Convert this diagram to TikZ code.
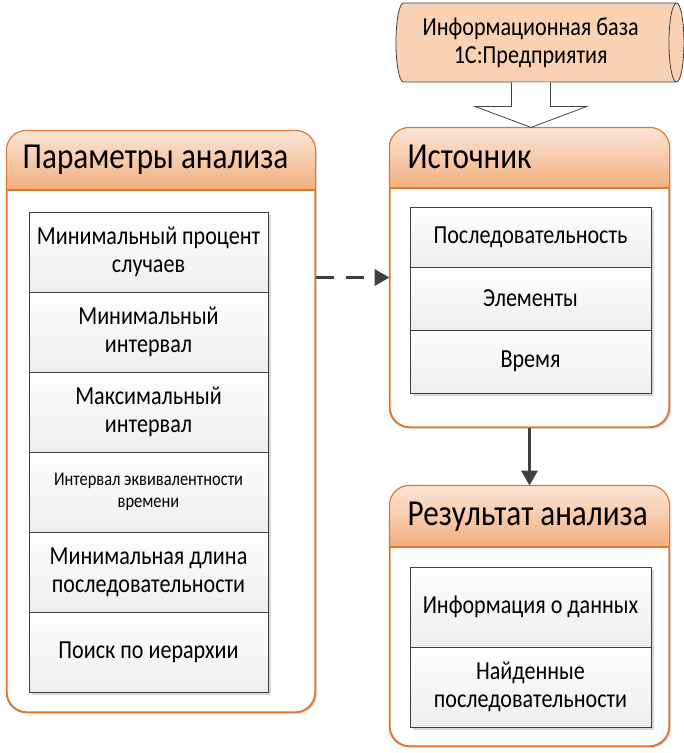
\documentclass[tikz,border=0pt]{standalone}
\usepackage{fontspec}
\setmainfont{Carlito}[FakeStretch=0.85]
\usetikzlibrary{shapes.geometric,arrows.meta,calc,shadows}
\definecolor{orangeb}{HTML}{E0782F}
\definecolor{peachtop}{HTML}{FBE5D6}
\definecolor{peachbot}{HTML}{F2AF7E}
\definecolor{cylfill}{HTML}{F9D1B3}
\definecolor{dark}{HTML}{404040}
\begin{document}
\begin{tikzpicture}[x=0.75pt,y=-0.75pt,
  container/.style={draw=orangeb, line width=0.9pt, rounded corners=15pt, fill=white,
     drop shadow={shadow xshift=1.5pt, shadow yshift=-1.5pt, opacity=0.25, fill=gray}},
  hdrtext/.style={anchor=west, font=\fontsize{27.5}{30}\selectfont, text=black},
  cell/.style={draw=dark, line width=0.6pt, top color=white, bottom color=black!7,
     align=center, inner sep=0pt, font=\fontsize{19.5}{21}\selectfont,
     drop shadow={shadow xshift=2pt, shadow yshift=-2pt, opacity=0.3, fill=gray}},
  smallcell/.style={cell, font=\fontsize{14.5}{16}\selectfont},
  conn/.style={draw=dark, line width=2.2pt, -{Triangle[length=11pt,width=12pt]}},
]
\useasboundingbox (0,0) rectangle (684,753);

% ---------- containers ----------
\node[container, minimum width=231pt, minimum height=435.75pt] (par) at (161,421.5) {};
\node[container, minimum width=209.25pt, minimum height=224.25pt] (src) at (529.5,277.5) {};
\node[container, minimum width=209.25pt, minimum height=195pt] (res) at (529.5,616) {};

% headers
\begin{scope}
  \clip[rounded corners=15pt] (par.north west) rectangle (par.south east);
  \shade[top color=peachtop, bottom color=peachbot] (par.north west) rectangle (315,190);
\end{scope}
\begin{scope}
  \clip[rounded corners=15pt] (src.north west) rectangle (src.south east);
  \shade[top color=peachtop, bottom color=peachbot] (src.north west) rectangle (669,188);
\end{scope}
\begin{scope}
  \clip[rounded corners=15pt] (res.north west) rectangle (res.south east);
  \shade[top color=peachtop, bottom color=peachbot] (res.north west) rectangle (669,547);
\end{scope}
\draw[orangeb, line width=0.9pt, rounded corners=15pt] (par.north west) rectangle (par.south east);
\draw[orangeb, line width=0.9pt, rounded corners=15pt] (src.north west) rectangle (src.south east);
\draw[orangeb, line width=0.9pt, rounded corners=15pt] (res.north west) rectangle (res.south east);
\draw[orangeb, line width=0.9pt] (par.west |- 0,190) -- (par.east |- 0,190);
\draw[orangeb, line width=0.9pt] (src.west |- 0,188) -- (src.east |- 0,188);
\draw[orangeb, line width=0.9pt] (res.west |- 0,547) -- (res.east |- 0,547);

\node[hdrtext] (parh) at (18,160) {Параметры анализа};
\node[hdrtext] (srch) at (403,157) {Источник};
\node[hdrtext] (resh) at (403,517) {Результат анализа};

% ---------- cells: parameters ----------
\node[cell, minimum width=179.25pt, minimum height=60pt] (p1) at (148.5,252) {Минимальный процент\\случаев};
\node[cell, minimum width=179.25pt, minimum height=60pt] (p2) at (148.5,332) {Минимальный\\интервал};
\node[cell, minimum width=179.25pt, minimum height=60pt] (p3) at (148.5,412) {Максимальный\\интервал};
\node[smallcell, minimum width=179.25pt, minimum height=60pt] (p4) at (148.5,492) {Интервал эквивалентности\\времени};
\node[cell, minimum width=179.25pt, minimum height=60pt] (p5) at (148.5,572) {Минимальная длина\\последовательности};
\node[cell, minimum width=179.25pt, minimum height=60pt] (p6) at (148.5,652) {Поиск по иерархии};

% ---------- cells: source ----------
\node[cell, minimum width=180.75pt, minimum height=45pt] (s1) at (530.5,237) {Последовательность};
\node[cell, minimum width=180.75pt, minimum height=47.25pt] (s2) at (530.5,298.5) {Элементы};
\node[cell, minimum width=180.75pt, minimum height=47.25pt] (s3) at (530.5,361.5) {Время};

% ---------- cells: result ----------
\node[cell, minimum width=180.75pt, minimum height=60pt] (r1) at (530.5,607) {Информация о данных};
\node[cell, minimum width=180.75pt, minimum height=60pt] (r2) at (530.5,687) {Найденные\\последовательности};

% ---------- database cylinder ----------
\node[cylinder, shape border rotate=0, shape aspect=0.3, draw=dark, line width=0.6pt,
      fill=cylfill, minimum width=59.25pt, minimum height=216pt, align=center,
      font=\fontsize{19.5}{21}\selectfont, inner sep=0pt] (db) at (536,42.5)
      {Информационная база\hspace*{8pt}\\1С:Предприятия\hspace*{8pt}};

% block arrow
\coordinate (bt) at ($(src.north)+(1.5,0)$);
\coordinate (dbb) at (db.south);
\coordinate (sl) at ($(bt)+(-19.5,-21)$);
\coordinate (sr) at ($(bt)+(19.5,-21)$);
\coordinate (hl) at ($(bt)+(-56,-21)$);
\coordinate (hr) at ($(bt)+(56,-21)$);
\draw[dark, line width=0.6pt, fill=white]
  (sl |- dbb) -- (sl) -- (hl) -- (bt) -- (hr) -- (sr) -- (sr |- dbb);

% ---------- connectors ----------
\draw[conn, dash pattern=on 13.5pt off 9pt] (par.east |- src.west) -- (src.west);
\draw[conn] (src.south) -- (res.north);
\end{tikzpicture}
\end{document}
